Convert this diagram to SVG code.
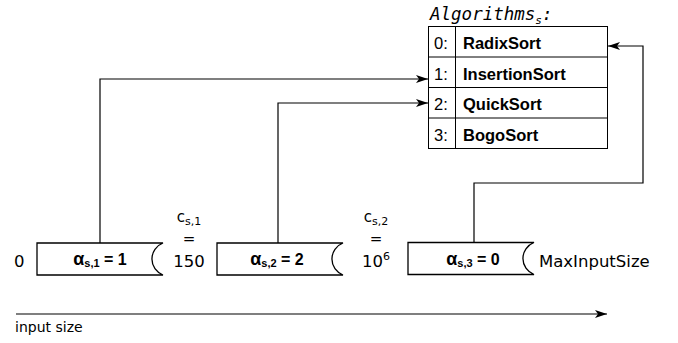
<svg xmlns="http://www.w3.org/2000/svg" width="678" height="343" viewBox="0 0 678 343">
<defs>
<marker id="ah" markerWidth="12" markerHeight="8" refX="12" refY="4" orient="auto" markerUnits="userSpaceOnUse">
<path d="M0,0 L12,4 L0,8 L3,4 Z" fill="#000"/>
</marker>
</defs>
<style>
.ln{fill:none;stroke:#000;stroke-width:1.2}
.box{fill:#fff;stroke:#000;stroke-width:1.3}
.cell{fill:#fff;stroke:#000;stroke-width:1}
.idx{font-family:"Liberation Sans",Arial,sans-serif;font-size:16.5px;fill:#000}
.alg{font-family:"Liberation Sans",Arial,sans-serif;font-size:16.5px;font-weight:bold;fill:#000}
.lbl{font-family:"Liberation Sans",Arial,sans-serif;font-size:16px;font-weight:bold;fill:#000}
.dv{font-family:"DejaVu Sans",sans-serif;font-size:16.5px;fill:#000}
.dvs{font-family:"DejaVu Sans",sans-serif;font-size:15px;fill:#000}
.ax{font-family:"DejaVu Sans",sans-serif;font-size:14px;fill:#000}
.title{font-family:"DejaVu Sans Mono",monospace;font-style:italic;font-size:17.5px;fill:#000}
</style>
<g id="connectors">
<path class="ln" d="M100,243 V79 H428" marker-end="url(#ah)"/>
<path class="ln" d="M278,243 V103 H428" marker-end="url(#ah)"/>
<path class="ln" d="M474,242 V183 H643 V46 H608" marker-end="url(#ah)"/>
<path class="ln" d="M16,314 H607" marker-end="url(#ah)"/>
</g>
<g id="algorithms">
<text class="title" x="430" y="20">Algorithms<tspan font-size="11" dy="4">s</tspan><tspan dy="-4">:</tspan></text>
<rect class="cell" x="428.5" y="26.5" width="179" height="122"/>
<line class="cell" x1="455.5" y1="26.5" x2="455.5" y2="148.5"/>
<line class="cell" x1="428.5" y1="57" x2="607.5" y2="57"/>
<line class="cell" x1="428.5" y1="87.5" x2="607.5" y2="87.5"/>
<line class="cell" x1="428.5" y1="118" x2="607.5" y2="118"/>
<text class="idx" x="434" y="49">0:</text>
<text class="alg" x="463" y="49">RadixSort</text>
<text class="idx" x="434" y="79.5">1:</text>
<text class="alg" x="463" y="79.5">InsertionSort</text>
<text class="idx" x="434" y="110">2:</text>
<text class="alg" x="463" y="110">QuickSort</text>
<text class="idx" x="434" y="140.5">3:</text>
<text class="alg" x="463" y="140.5">BogoSort</text>
</g>
<g id="range1">
<path class="box" d="M37,243 H163 A17.1,17.1 0 0 0 163,275 H37 Z"/>
<text class="lbl" x="100" y="265" text-anchor="middle"><tspan font-size="18">α</tspan><tspan font-size="11" dy="2">s,1</tspan><tspan dy="-2"> = 1</tspan></text>
</g>
<g id="range2">
<path class="box" d="M217,243 H343 A17.1,17.1 0 0 0 343,275 H217 Z"/>
<text class="lbl" x="277" y="265" text-anchor="middle"><tspan font-size="18">α</tspan><tspan font-size="11" dy="2">s,2</tspan><tspan dy="-2"> = 2</tspan></text>
</g>
<g id="range3">
<path class="box" d="M408,242.5 H534 A17.1,17.1 0 0 0 534,274.5 H408 Z"/>
<text class="lbl" x="473" y="264.5" text-anchor="middle"><tspan font-size="18">α</tspan><tspan font-size="11" dy="2">s,3</tspan><tspan dy="-2"> = 0</tspan></text>
</g>
<g id="labels">
<text class="dv" x="14" y="267">0</text>
<text class="dvs" x="189" y="222" text-anchor="middle">c<tspan font-size="11" dy="3">s,1</tspan></text>
<text class="dvs" x="189" y="244" text-anchor="middle">=</text>
<text class="dv" x="189" y="267" text-anchor="middle">150</text>
<text class="dvs" x="376" y="222" text-anchor="middle">c<tspan font-size="11" dy="3">s,2</tspan></text>
<text class="dvs" x="376" y="244" text-anchor="middle">=</text>
<text class="dv" x="376" y="267" text-anchor="middle">10<tspan font-size="11" dy="-7">6</tspan></text>
<text class="dv" x="539" y="267">MaxInputSize</text>
<text class="ax" x="15" y="332">input size</text>
</g>
</svg>
